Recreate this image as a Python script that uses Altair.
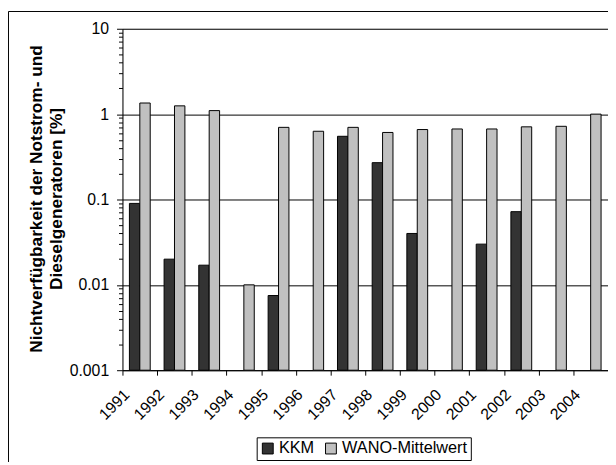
import altair as alt
import pandas as pd

years = ["1991", "1992", "1993", "1994", "1995", "1996", "1997",
         "1998", "1999", "2000", "2001", "2002", "2003", "2004"]
kkm = [0.09, 0.02, 0.017, None, 0.0075, None, 0.55,
       0.27, 0.04, None, 0.03, 0.072, None, None]
wano = [1.35, 1.25, 1.1, 0.01, 0.7, 0.63, 0.7,
        0.61, 0.66, 0.67, 0.67, 0.71, 0.72, 1.0]
series = ["KKM", "WANO-Mittelwert"]
colors = ["#333333", "#c0c0c0"]
major_ticks = [0.001, 0.01, 0.1, 1, 10]
major_labels = ["10", "1", "0.1", "0.01", "0.001"]
title_lines = ["Nichtverfügbarkeit der Notstrom- und", "Dieselgeneratoren [%]"]
y_min, y_max = 0.001, 10

rows = []
for i, yr in enumerate(years):
    for s, vals in zip(series, [kkm, wano]):
        if vals[i] is not None:
            rows.append({"Jahr": yr, "Reihe": s, "Wert": vals[i]})
df = pd.DataFrame(rows)

minor_ticks = [m * 10.0 ** e for e in range(-3, 1) for m in range(2, 10)]
tick_values = sorted(major_ticks + minor_ticks)

decade = "abs(log(datum.value)/LN10 - round(log(datum.value)/LN10)) < 0.000001"
label_list = "[" + ",".join("'" + s + "'" for s in major_labels) + "]"

W, H = 492, 346
FONT = "Liberation Sans"
half_step = W / 14 / 2

bars = alt.Chart(df).mark_bar(stroke="black", strokeWidth=1).encode(
    x=alt.X(
        "Jahr:N",
        sort=years,
        scale=alt.Scale(domain=years, paddingInner=0.4, paddingOuter=0.2),
        axis=alt.Axis(
            title=None, labelAngle=-45, labelAlign="right", labelBaseline="middle",
            labelFont=FONT, labelFontSize=16, labelColor="black",
            tickOffset=-half_step, labelOffset=4, tickSize=5,
            tickColor="black", domainColor="black", labelPadding=17, grid=False,
        ),
    ),
    xOffset=alt.XOffset("Reihe:N", scale=alt.Scale(domain=series, paddingInner=0, paddingOuter=0)),
    y=alt.Y(
        "Wert:Q",
        scale=alt.Scale(type="log", domain=[y_min, y_max], nice=False),
        axis=alt.Axis(
            values=tick_values, format="~g",
            labelExpr="indexof(" + label_list + ", datum.label) >= 0 ? datum.label : ''",
            labelFont=FONT, labelFontSize=16, labelColor="black", labelPadding=8,
            tickColor="black", domainColor="black",
            tickSize={"condition": {"test": decade, "value": 6}, "value": 4},
            grid=True, gridColor="black",
            gridOpacity={"condition": {"test": decade, "value": 1}, "value": 0},
            title=title_lines, titleFont=FONT, titleFontSize=17.5, titleFontWeight="bold",
            titleColor="black", titleAngle=270, titleAlign="center", titleBaseline="middle",
            titleX=-87, titleY=172, titleLineHeight=20,
        ),
    ),
    y2=alt.Y2(datum=y_min),
    color=alt.Color(
        "Reihe:N",
        scale=alt.Scale(domain=series, range=colors),
        legend=alt.Legend(
            orient="none", legendX=136, legendY=414, direction="horizontal", title=None,
            strokeColor="black", padding=3, symbolType="square", symbolSize=121,
            symbolStrokeColor="black", symbolStrokeWidth=1,
            labelFont=FONT, labelFontSize=16.5, labelColor="black", labelOffset=3,
            columnPadding=8,
        ),
    ),
)

frame_df = pd.DataFrame({"a": [0]})
left_border = alt.Chart(frame_df).mark_rule(color="black", strokeWidth=1).encode(
    x=alt.value(-115.5), y=alt.value(-17.5), y2=alt.value(H + 93)
)
top_border = alt.Chart(frame_df).mark_rule(color="black", strokeWidth=1).encode(
    x=alt.value(-115.5), x2=alt.value(W), y=alt.value(-17.5)
)

chart = alt.layer(bars, left_border, top_border).properties(
    width=W, height=H,
    autosize=alt.AutoSizeParams(type="none"),
    padding={"left": 116, "top": 18, "right": 0, "bottom": 93},
).configure_view(stroke=None).configure(background="white")

chart.save("out.html", embed_options={"renderer": "svg", "actions": False})
